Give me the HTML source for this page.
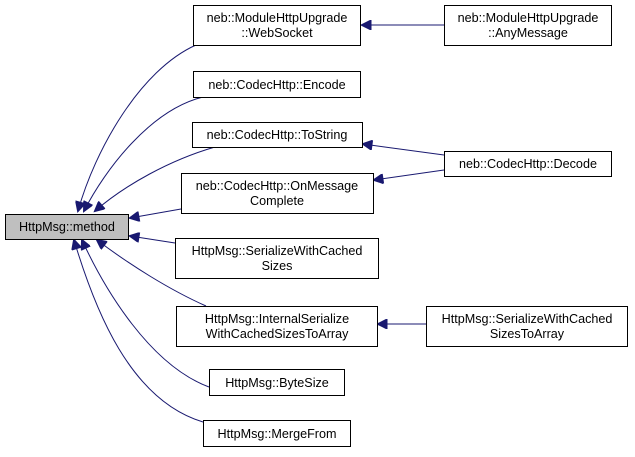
<!DOCTYPE html>
<html><head><meta charset="utf-8"><style>
body{margin:0;background:#fff;}
svg text{font-family:"Liberation Sans",Arial,sans-serif;font-size:12.6px;fill:#000;}
</style></head><body>
<svg width="635" height="452" viewBox="0 0 635 452" xmlns="http://www.w3.org/2000/svg">
<defs>
<marker id="a" viewBox="0 0 10 10" refX="9" refY="5" markerWidth="12" markerHeight="10" markerUnits="userSpaceOnUse" orient="auto">
<path d="M10,5 L0,0 L0,10 Z" fill="#191970" stroke="#191970"/>
</marker>
</defs>
<g fill="none" stroke="#191970" stroke-width="1" marker-end="url(#a)">
<path d="M196,45 C140,70 95,150 78,211"/>
<path d="M203,97 C150,110 105,170 84,211"/>
<path d="M215,147 C170,160 125,185 95,211"/>
<path d="M181,209 L130,218"/>
<path d="M175,243 L130,236"/>
<path d="M206,306 C170,290 130,265 97,240"/>
<path d="M209,387 C150,365 105,290 82,240"/>
<path d="M203,422 C130,400 95,310 74,240"/>
<path d="M444,25 L362,25"/>
<path d="M444,155 L363,144"/>
<path d="M444,170 L374,180"/>
<path d="M426,324 L378,324"/>
</g>
<g stroke="#000" stroke-width="1" fill="#fff">
<rect x="5.5" y="214.5" width="123" height="25" fill="#bfbfbf"/>
<rect x="193.5" y="5.5" width="167" height="40"/>
<rect x="193.5" y="71.5" width="167" height="26"/>
<rect x="192.5" y="122.5" width="170" height="25"/>
<rect x="181.5" y="173.5" width="192" height="40"/>
<rect x="175.5" y="238.5" width="203" height="40"/>
<rect x="176.5" y="306.5" width="201" height="40"/>
<rect x="209.5" y="369.5" width="135" height="26"/>
<rect x="203.5" y="420.5" width="147" height="26"/>
<rect x="444.5" y="5.5" width="167" height="40"/>
<rect x="444.5" y="151.5" width="167" height="25"/>
<rect x="426.5" y="306.5" width="201" height="40"/>
</g>
<g text-anchor="middle">
<text x="67" y="231">HttpMsg::method</text>
<text x="277" y="22">neb::ModuleHttpUpgrade</text>
<text x="277" y="37">::WebSocket</text>
<text x="277" y="89">neb::CodecHttp::Encode</text>
<text x="277" y="139">neb::CodecHttp::ToString</text>
<text x="277" y="190">neb::CodecHttp::OnMessage</text>
<text x="277" y="205">Complete</text>
<text x="277" y="255">HttpMsg::SerializeWithCached</text>
<text x="277" y="270">Sizes</text>
<text x="277" y="323">HttpMsg::InternalSerialize</text>
<text x="277" y="338">WithCachedSizesToArray</text>
<text x="277" y="387">HttpMsg::ByteSize</text>
<text x="277" y="438">HttpMsg::MergeFrom</text>
<text x="528" y="22">neb::ModuleHttpUpgrade</text>
<text x="528" y="37">::AnyMessage</text>
<text x="528" y="168">neb::CodecHttp::Decode</text>
<text x="527" y="323">HttpMsg::SerializeWithCached</text>
<text x="527" y="338">SizesToArray</text>
</g>
</svg>
</body></html>
